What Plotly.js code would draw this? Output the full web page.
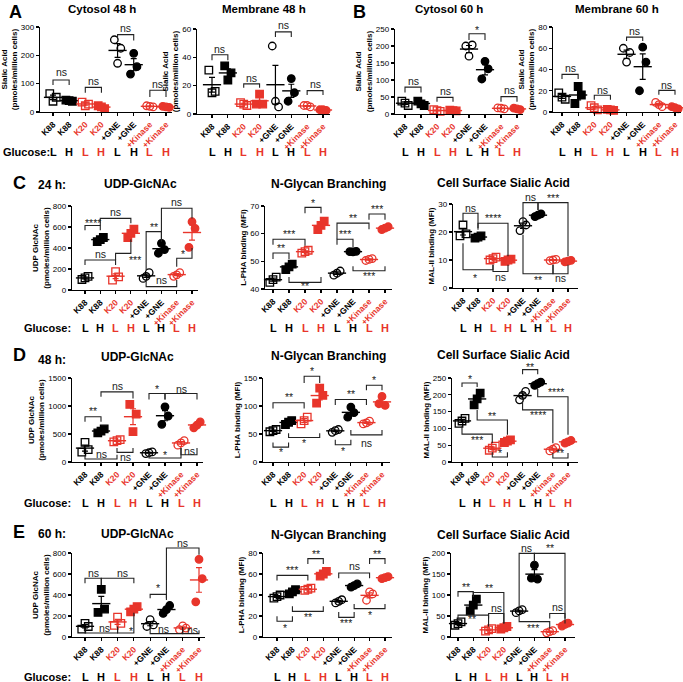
<!DOCTYPE html>
<html><head><meta charset="utf-8">
<script src="https://cdn.plot.ly/plotly-3.0.1.min.js"></script>
<style>html,body{margin:0;padding:0;background:#fff}#chart{width:683px;height:682px}</style>
</head><body><div id="chart"></div>
<script>
// ---------- categories ----------
const categories = ['K88','K88','K20','K20','+GNE','+GNE','+Kinase','+Kinase'];
const glucose = ['L','H','L','H','L','H','L','H'];
const groupIsRed = [false,false,true,true,false,false,true,true];
const groupSymbol = ['square-open','square','square-open','square','circle-open','circle','circle-open','circle'];

// ---------- values (3 replicates per group) ----------
const cytosol48 = [[65,52,38],[42,38,40],[35,28,22],[22,12,18],[255,225,172],[134,160,207],[22,18,20],[20,16,18]];
const membrane48 = [[31,16,15],[34,29,24],[8,6,7],[7,7,14],[48,5,9],[9,15,25],[6,5,6],[3,2.5,3]];
const cytosol60 = [[38,25,32],[38,25,30],[13,8,10],[11,9,10],[200,203,170],[103,133,155],[18,15,17],[17,13,15]];
const membrane60 = [[18,12,14],[8,16,24],[6,2,4],[2.5,1.5,2],[60,56,47],[20,47,61],[9,5,7],[5,3,4]];
const udp24 = [[100,130,115],[460,500,480],[95,125,175],[500,580,540],[110,165,130],[350,385,445],[130,165,145],[406,587,650]];
const lpha24 = [[42.4,44.3,43.4],[47,49,48],[53,54,53.5],[61.5,64.5,63],[45,46.5,45.7],[53.5,53.6,53.4],[50.3,51,50.7],[61.5,62.5,62]];
const mal24 = [[18.6,19.3,22.5],[17.8,18.6,18.2],[10,11,10.5],[9.5,10.3,10],[20.5,22.5,23.7],[25.5,26.5,26],[9.8,10.2,10],[9.3,9.9,9.6]];
const udp48 = [[175,220,350],[520,590,550],[360,400,380],[1028,856,543],[150,180,165],[673,821,986],[300,380,340],[610,715,660]];
const lpha48 = [[54,58,56],[67,74,71],[68,80,74],[105,119,132],[53,58,56],[80,88,98],[68,73,70],[104,101,117]];
const mal48 = [[115,130,122],[170,205,188],[35,47,41],[58,66,62],[185,210,198],[228,238,233],[33,43,38],[56,64,60]];
const udp60 = [[75,100,130],[234,266,454],[110,130,190],[240,290,265],[100,115,165],[225,300,260],[70,85,105],[335,555,740]];
const lpha60 = [[37,40,38.5],[41,45,43],[44.5,46.5,45.5],[58,62.5,60],[32.5,35.5,34],[47.5,50.5,49],[35,41,43],[55.5,57.5,56.5]];
const mal60 = [[28,36,32],[62,90,76],[14,20,17],[19,25,22],[58,65,62],[140,138,171],[10,15,13],[26,33,30]];

// ---------- significance brackets: [x1, y1(leg end), x2, y2(leg end), yLine, label, labelY, labelX?] ----------
const sigCytosol48 = [[0,95,1,95,113,'ns',140],[2,68,3,68,87,'ns',110],[4,257,5,252,273,'ns',295],[6,53,7,53,77,'ns',100]];
const sigMembrane48 = [[0,38,1,38,41.8,'ns',46],[2,18.5,3,18.5,21.3,'ns',25.5],[4,54.4,5,54.4,58,'ns',62.5],[6,13.5,7,13.5,16.5,'ns',21]];
const sigCytosol60 = [[0,63,1,63,79,'ns',98],[2,36,3,36,49,'ns',69],[4,218,5,218,236,'*',248],[6,36,7,36,51,'ns',71]];
const sigMembrane60 = [[0,31,1,31,35.4,'ns',41],[2,11.6,3,11.6,15.7,'ns',21],[4,66.8,5,66.8,70.5,'ns',76],[6,16.3,7,16.3,20.4,'ns',25]];
const sigUdp24 = [[0,570,1,570,615,'****',640],[1,615,3,635,682,'ns',745],[0,238,2,238,286,'ns',345],[2,286,3,480,349,'***',290,3.25],
  [4,190,5,460,556,'**',600],[5,476,7,682,778,'ns',835],[4,95,6,95,32,'ns',95,5],[6,222,7,400,302,'*',345,6.4]];
const sigLpha24 = [[0,50.8,1,50.8,53,'**',54.8],[0,56,2,55.6,58,'***',60],[2,67.4,3,67.4,69.5,'*',71.2],[1,44.3,3,44.3,42.4,'**',41],
  [4,58,6,61.6,63.8,'**',65.5],[4,56,5,55,58,'***',59.8],[6,65,7,65,67.1,'***',68.8],[5,48.2,7,48.2,46.6,'***',44.6]];
const sigMal24 = [[0,23.7,1,21.4,26.7,'ns',28.6],[1,20.8,3,11.3,23.1,'****',24.9],[0,16,2,8.3,6.5,'*',3.6,0.8],[2,8.3,3,8.3,5.9,'ns',3.8],
  [4,19.5,5,27.9,30.5,'ns',32.6],[5,27.9,7,11.3,30.5,'***',32.3],[4,19,6,8.3,5.1,'**',3],[6,8.3,7,8.3,5.1,'ns',3.4]];
const sigUdp48 = [[0,720,1,720,809,'**',915],[1,1163,3,1134,1252,'ns',1352],[0,130,2,130,53,'ns',150,1.0],[2,248,3,248,171,'ns',89],
  [4,1116,5,1116,1223,'*',1300],[5,1116,7,1116,1223,'ns',1311],[4,160,6,250,71,'*',125,5],[6,248,7,248,130,'ns',205]];
const sigLpha48 = [[0,95.7,2,95.7,105.7,'**',116],[2,141,3,141,153,'*',162],[0,34.8,1,34.8,26.6,'*',17],[1,51.4,3,51.4,43.7,'*',33.7],
  [4,101.6,6,101.6,111.6,'**',122],[6,128,7,128,137,'*',147],[4,39.6,5,39.6,30.7,'*',19],[5,57.3,7,57.3,48.4,'ns',33.7]];
const sigMal48 = [[0,223,1,223,235,'*',248],[1,155,3,81,125,'**',137],[0,107,2,56,83,'***',66,1],[2,29,3,29,15,'*',27],
  [4,261,5,261,275,'**',283],[4,179,6,56,155,'****',140,5],[5,218,7,81,194,'****',209,6.2],[6,27,7,27,12,'**',26]];
const sigUdp60 = [[0,512,1,496,560,'ns',608],[1,496,3,512,560,'ns',608,2.3],[0,80,2,80,38,'ns',88,1.2],[2,100,3,230,38,'*',58,2.8],
  [4,368,5,352,406,'*',464],[5,368,7,784,848,'ns',896],[4,96,6,96,32,'ns',80,4.8],[6,64,7,64,32,'ns',64,6.6]];
const sigLpha60 = [[0,53.7,2,53.7,58.7,'***',64],[2,69.5,3,69.5,74.6,'**',79],[0,19.7,1,19.7,15,'*',9],[1,29.2,3,29.2,24.4,'**',18.7],
  [4,56,6,56,61,'ns',68],[6,69.5,7,69.5,74.6,'**',79],[4,23.8,5,23.8,18.7,'***',13.3],[5,31.4,7,31.4,27,'*',21.3]];
const sigMal60 = [[0,96,1,96,108,'**',120],[1,96,3,32,106,'**',117],[0,40,2,25,52,'**',42,0.9],[2,44,3,32,56,'ns',70],
  [4,68,5,179,199,'ns',211],[5,179,7,32,199,'**',211],[4,52,6,20,36.5,'***',22,4.9],[6,44,7,44,56,'ns',71]];

// ---------- layout geometry (pixels) ----------
const W = 683, H = 682;
const RED = '#e8352b', BLACK = '#000000';
const FONT = 'Liberation Sans, Arial, Helvetica, sans-serif';
const JIT = [-0.2, 0.2, 0];
const SIA = 'Sialic Acid<br>(pmoles/million cells)';
const UDP = 'UDP GlcNAc<br>(pmoles/million cells)';
const LPHA = 'L-PHA binding (MFI)';
const MAL = 'MAL-II binding (MFI)';

const panels = [
  {data: cytosol48, sig: sigCytosol48, ax0:40, p0:53, p7:166, ax1:172, top:27, bot:112, yr:[0,300], dt:100, yt:SIA, gy:152},
  {data: membrane48, sig: sigMembrane48, ax0:197, p0:212, p7:323, ax1:330, top:29, bot:114, yr:[0,60], dt:20, yt:SIA, gy:152},
  {data: cytosol60, sig: sigCytosol60, ax0:395, p0:405, p7:517, ax1:523, top:29, bot:114, yr:[0,250], dt:50, yt:SIA, gy:152},
  {data: membrane60, sig: sigMembrane60, ax0:553, p0:562, p7:675, ax1:681, top:27, bot:112, yr:[0,80], dt:20, yt:SIA, gy:152},
  {data: udp24, sig: sigUdp24, ax0:72, p0:85, p7:192, ax1:198, top:206, bot:290, yr:[0,800], dt:200, yt:UDP, gy:328},
  {data: lpha24, sig: sigLpha24, ax0:265, p0:273, p7:385, ax1:392, top:206, bot:289, yr:[40,70], dt:10, yt:LPHA, gy:328},
  {data: mal24, sig: sigMal24, ax0:453, p0:463, p7:568, ax1:578, top:204, bot:288, yr:[0,30], dt:10, yt:MAL, gy:328},
  {data: udp48, sig: sigUdp48, ax0:72, p0:85, p7:197, ax1:203, top:378, bot:462, yr:[0,1500], dt:500, yt:UDP, gy:503},
  {data: lpha48, sig: sigLpha48, ax0:263, p0:273, p7:382, ax1:390, top:378, bot:462, yr:[0,150], dt:50, yt:LPHA, gy:503},
  {data: mal48, sig: sigMal48, ax0:452, p0:462, p7:568, ax1:578, top:378, bot:462, yr:[0,250], dt:50, yt:MAL, gy:503},
  {data: udp60, sig: sigUdp60, ax0:72, p0:85, p7:199, ax1:205, top:553, bot:637, yr:[0,800], dt:200, yt:UDP, gy:677},
  {data: lpha60, sig: sigLpha60, ax0:263, p0:277, p7:385, ax1:392, top:553, bot:637, yr:[0,80], dt:20, yt:LPHA, gy:677},
  {data: mal60, sig: sigMal60, ax0:451, p0:458, p7:565, ax1:575, top:553, bot:637, yr:[0,200], dt:50, yt:MAL, gy:677}
];

const traces = [], shapes = [], annotations = [];
const layout = {
  width: W, height: H, margin: {l:0, r:0, t:0, b:0}, showlegend: false,
  paper_bgcolor: '#ffffff', plot_bgcolor: 'rgba(0,0,0,0)',
  font: {family: FONT, color: '#000'}
};

const tickText = categories.map((c, g) => groupIsRed[g] ? `<span style="color:${RED}">${c}</span>` : c);

panels.forEach((p, i) => {
  const sfx = i === 0 ? '' : String(i + 1);
  const xr = 'x' + sfx, yr = 'y' + sfx;
  const s = (p.p7 - p.p0) / 7;
  layout['xaxis' + sfx] = {
    domain: [p.ax0 / W, p.ax1 / W], range: [(p.ax0 - p.p0) / s, 7 + (p.ax1 - p.p7) / s],
    anchor: yr, tickmode: 'array', tickvals: [0,1,2,3,4,5,6,7], ticktext: tickText,
    tickangle: -45, tickfont: {size: 8.5, weight: 'bold', family: FONT, color: '#000'},
    showline: true, linecolor: '#000', linewidth: 1.3, ticks: 'outside', ticklen: 3, tickwidth: 1.1,
    tickcolor: '#000', showgrid: false, zeroline: false, fixedrange: true, automargin: false
  };
  layout['yaxis' + sfx] = {
    domain: [1 - p.bot / H, 1 - p.top / H], range: p.yr, dtick: p.dt, tick0: 0,
    anchor: xr, tickfont: {size: 8, family: FONT, color: '#000'},
    showline: true, linecolor: '#000', linewidth: 1.3, ticks: 'outside', ticklen: 3, tickwidth: 1.1,
    tickcolor: '#000', showgrid: false, zeroline: false, fixedrange: true, automargin: false,
    title: {text: p.yt, font: {size: 8, weight: 'bold', family: FONT}, standoff: 2}
  };
  // points and mean +/- SEM
  p.data.forEach((vals, g) => {
    const col = groupIsRed[g] ? RED : BLACK;
    traces.push({
      type: 'scatter', mode: 'markers', xaxis: xr, yaxis: yr, cliponaxis: false, hoverinfo: 'skip',
      x: vals.map((v, j) => g + JIT[j]), y: vals,
      marker: {symbol: groupSymbol[g], size: 7.5, color: col, line: {color: col, width: 1.3}}
    });
    const n = vals.length;
    const m = vals.reduce((a, b) => a + b, 0) / n;
    const sd = Math.sqrt(vals.reduce((a, b) => a + (b - m) * (b - m), 0) / (n - 1));
    traces.push({
      type: 'scatter', mode: 'markers', xaxis: xr, yaxis: yr, cliponaxis: false, hoverinfo: 'skip',
      x: [g], y: [m],
      marker: {symbol: 'line-ew-open', size: 13, color: col, line: {color: col, width: 1.4}},
      error_y: {type: 'data', array: [sd / Math.sqrt(n)], visible: true, color: col, thickness: 1.2, width: 3}
    });
  });
  // helpers to paper coords
  const px = x => (p.p0 + x * s) / W;
  const py = v => 1 - (p.bot - (v - p.yr[0]) / (p.yr[1] - p.yr[0]) * (p.bot - p.top)) / H;
  p.sig.forEach(b => {
    const [x1, y1, x2, y2, yh, lab, ly, lx] = b;
    shapes.push({
      type: 'path', xref: 'paper', yref: 'paper', layer: 'above',
      path: `M ${px(x1)},${py(y1)} L ${px(x1)},${py(yh)} L ${px(x2)},${py(yh)} L ${px(x2)},${py(y2)}`,
      line: {color: '#222', width: 1.1}
    });
    annotations.push({
      xref: 'paper', yref: 'paper', x: px(lx === undefined ? (x1 + x2) / 2 : lx), y: py(ly),
      text: lab, showarrow: false, xanchor: 'center', yanchor: 'middle',
      font: {size: 10.5, color: '#222', family: FONT}
    });
  });
  // glucose row
  glucose.forEach((gl, g) => {
    annotations.push({
      xref: 'paper', yref: 'paper', x: px(g), y: 1 - p.gy / H, text: gl, showarrow: false,
      xanchor: 'center', yanchor: 'middle',
      font: {size: 11, weight: 'bold', color: groupIsRed[g] ? RED : BLACK, family: FONT}
    });
  });
});

// ---------- titles & labels ----------
const texts = [
  ['A', 15, 12, 18, 'center'], ['Cytosol 48 h', 102, 9, 11.5, 'center'], ['Membrane 48 h', 264, 9, 11.5, 'center'],
  ['B', 359, 12, 18, 'center'], ['Cytosol 60 h', 449, 9, 11.5, 'center'], ['Membrane 60 h', 617, 9, 11.5, 'center'],
  ['C', 19, 183, 18, 'center'], ['24 h:', 52, 185, 12, 'center'], ['UDP-GlcNAc', 140, 184, 12, 'center'],
  ['N-Glycan Branching', 328, 184, 12, 'center'], ['Cell Surface Sialic Acid', 503, 183, 12, 'center'],
  ['D', 19, 355, 18, 'center'], ['48 h:', 52, 360, 12, 'center'], ['UDP-GlcNAc', 137, 357, 12, 'center'],
  ['N-Glycan Branching', 328, 356, 12, 'center'], ['Cell Surface Sialic Acid', 503, 355, 12, 'center'],
  ['E', 19, 532, 18, 'center'], ['60 h:', 52, 534, 12, 'center'], ['UDP-GlcNAc', 137, 534, 12, 'center'],
  ['N-Glycan Branching', 328, 535, 12, 'center'], ['Cell Surface Sialic Acid', 503, 535, 12, 'center'],
  ['Glucose:', 1, 152, 11, 'left'], ['Glucose:', 73, 328, 11, 'right'], ['Glucose:', 73, 503, 11, 'right'], ['Glucose:', 73, 677, 11, 'right']
];
texts.forEach(([t, x, y, sz, anc]) => {
  annotations.push({xref: 'paper', yref: 'paper', x: x / W, y: 1 - y / H, text: t, showarrow: false,
    xanchor: anc, yanchor: 'middle', font: {size: sz, weight: 'bold', color: '#000', family: FONT}});
});

layout.shapes = shapes;
layout.annotations = annotations;
Plotly.newPlot('chart', traces, layout, {displayModeBar: false, staticPlot: true});
</script></body></html>
